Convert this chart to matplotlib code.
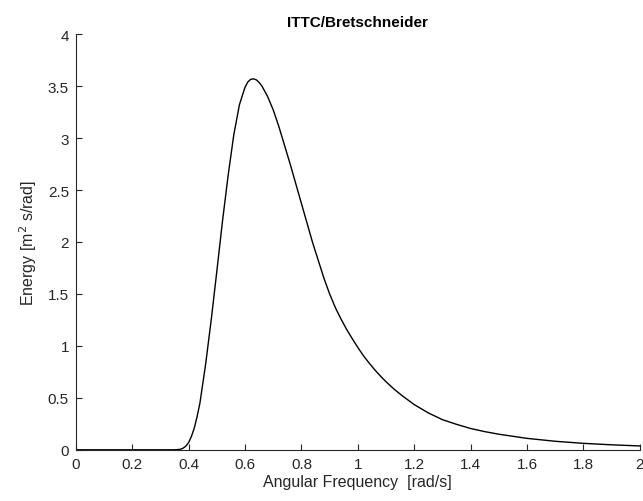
import numpy as np
import matplotlib.pyplot as plt

# values
omega = [0.0, 0.2, 0.35, 0.37, 0.38, 0.39, 0.40, 0.41, 0.42, 0.43, 0.44,
         0.46, 0.48, 0.50, 0.52, 0.54, 0.56, 0.58, 0.60, 0.61, 0.62, 0.63,
         0.64, 0.65, 0.66, 0.68, 0.70, 0.72, 0.74, 0.76, 0.78, 0.80, 0.82,
         0.84, 0.86, 0.88, 0.90, 0.92, 0.94, 0.96, 0.98, 1.00, 1.02, 1.04,
         1.06, 1.08, 1.10, 1.13, 1.16, 1.20, 1.25, 1.30, 1.35, 1.40, 1.45,
         1.50, 1.60, 1.70, 1.80, 1.90, 2.00]
energy = [0.0, 0.0, 0.0, 0.004, 0.015, 0.035, 0.07, 0.13, 0.21, 0.32, 0.45,
          0.82, 1.25, 1.72, 2.20, 2.64, 3.03, 3.32, 3.49, 3.54, 3.565, 3.57,
          3.56, 3.535, 3.50, 3.40, 3.27, 3.11, 2.93, 2.75, 2.56, 2.37, 2.18,
          1.99, 1.82, 1.65, 1.50, 1.37, 1.26, 1.16, 1.07, 0.985, 0.905, 0.835,
          0.77, 0.71, 0.655, 0.58, 0.515, 0.435, 0.355, 0.29, 0.245, 0.205, 0.175,
          0.15, 0.11, 0.082, 0.062, 0.048, 0.037]

xticks = np.arange(0, 2.01, 0.2)
yticks = np.arange(0, 4.01, 0.5)

plt.rcParams['font.family'] = ['Liberation Sans', 'DejaVu Sans']
gray = '#262626'

fig = plt.figure(figsize=(6.43, 5.02), dpi=100)
ax = fig.add_axes([0.118, 0.102, 0.877, 0.828])
ax.plot(omega, energy, color='black', lw=1.0)

ax.set_xlim(0, 2)
ax.set_ylim(0, 4)
ax.set_xticks(xticks)
ax.set_xticklabels(['0', '0.2', '0.4', '0.6', '0.8', '1', '1.2', '1.4', '1.6', '1.8', '2'])
ax.set_yticks(yticks)
ax.set_yticklabels(['0', '0.5', '1', '1.5', '2', '2.5', '3', '3.5', '4'])
ax.tick_params(direction='in', length=4, width=0.8, colors=gray, labelsize=11, pad=5)
for s in ['top', 'right']:
    ax.spines[s].set_visible(False)
for s in ['left', 'bottom']:
    ax.spines[s].set_color(gray)
    ax.spines[s].set_linewidth(0.8)

ax.set_title('ITTC/Bretschneider', fontsize=11, fontweight='bold', color='black', pad=6)
ax.set_xlabel('Angular Frequency  [rad/s]', fontsize=11.5, color=gray, labelpad=2)
ax.set_ylabel('Energy [m$^{2}$ s/rad]', fontsize=11.5, color=gray, labelpad=6)

fig.savefig('out.png', dpi=100)
